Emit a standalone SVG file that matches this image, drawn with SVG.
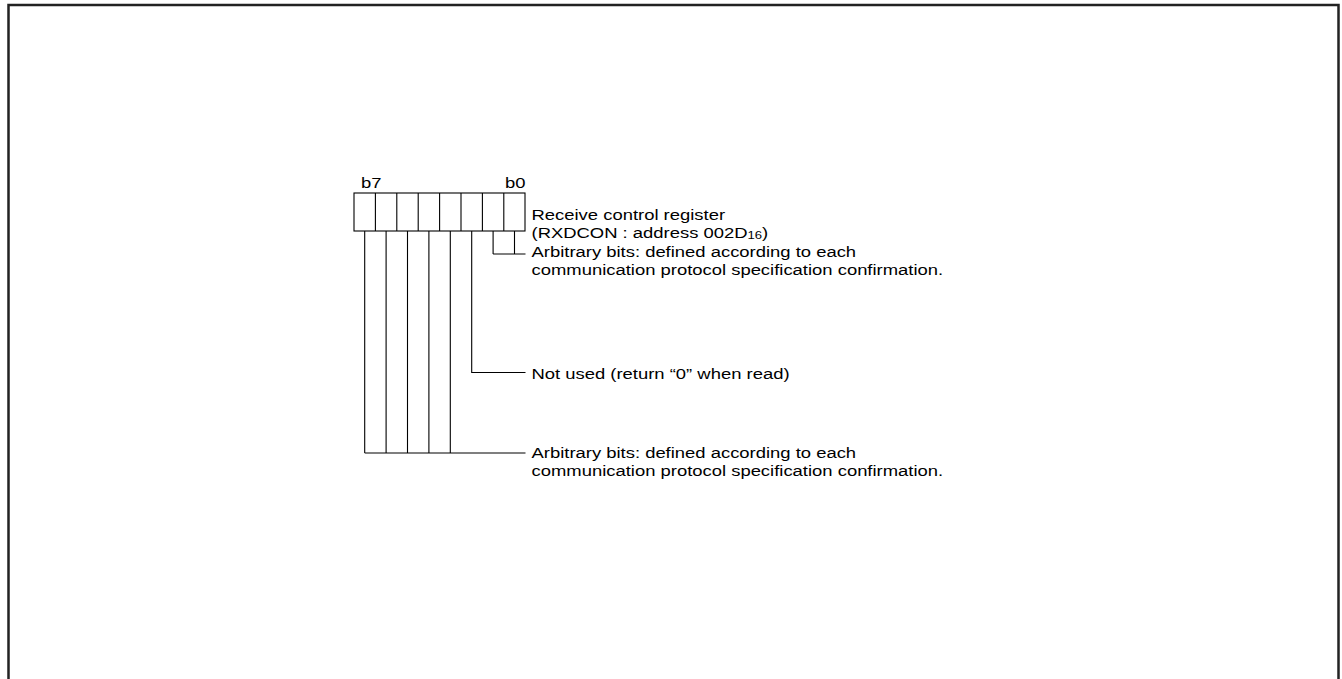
<svg xmlns="http://www.w3.org/2000/svg" width="1342" height="679" viewBox="0 0 1342 679">
<style>
.t{font-family:"Liberation Sans",Arial,sans-serif;font-size:15.5px;fill:#000}
.ln{fill:none;stroke:#000;stroke-width:1.1}
</style>
<rect x="0" y="0" width="1342" height="679" fill="#fff"/>
<rect x="8.5" y="5" width="1330" height="720" fill="none" stroke="#222" stroke-width="2.5"/>
<g id="register">
<rect class="ln" x="354" y="193" width="171" height="38"/>
<path class="ln" d="M375.4 193V231M396.8 193V231M418.2 193V231M439.6 193V231M461 193V231M482.4 193V231M503.8 193V231"/>
<text class="t" transform="translate(361,187.5) scale(1.19,1)">b7</text>
<text class="t" transform="translate(505,187.5) scale(1.19,1)">b0</text>
<text class="t" transform="translate(531.5,220) scale(1.19,1)">Receive control register</text>
<text class="t" transform="translate(531.5,238) scale(1.19,1)">(RXDCON : address 002D<tspan font-size="11" dy="1">16</tspan><tspan dy="-1">)</tspan></text>
</g>
<g id="connectors">
<path class="ln" d="M493.1 231V254M514.5 231V254M493.1 254H525.5"/>
<path class="ln" d="M471.7 231V372.5H525.5"/>
<path class="ln" d="M364.7 231V453M386.1 231V453M407.5 231V453M428.9 231V453M450.3 231V453M364.7 453H525.5"/>
</g>
<g id="label-b0b1">
<text class="t" transform="translate(531.5,256.5) scale(1.19,1)">Arbitrary bits: defined according to each</text>
<text class="t" transform="translate(531.5,274.5) scale(1.19,1)">communication protocol specification confirmation.</text>
</g>
<g id="label-b2">
<text class="t" transform="translate(531.5,378.5) scale(1.19,1)">Not used (return “0” when read)</text>
</g>
<g id="label-b3b7">
<text class="t" transform="translate(531.5,457.5) scale(1.19,1)">Arbitrary bits: defined according to each</text>
<text class="t" transform="translate(531.5,475.5) scale(1.19,1)">communication protocol specification confirmation.</text>
</g>
</svg>
